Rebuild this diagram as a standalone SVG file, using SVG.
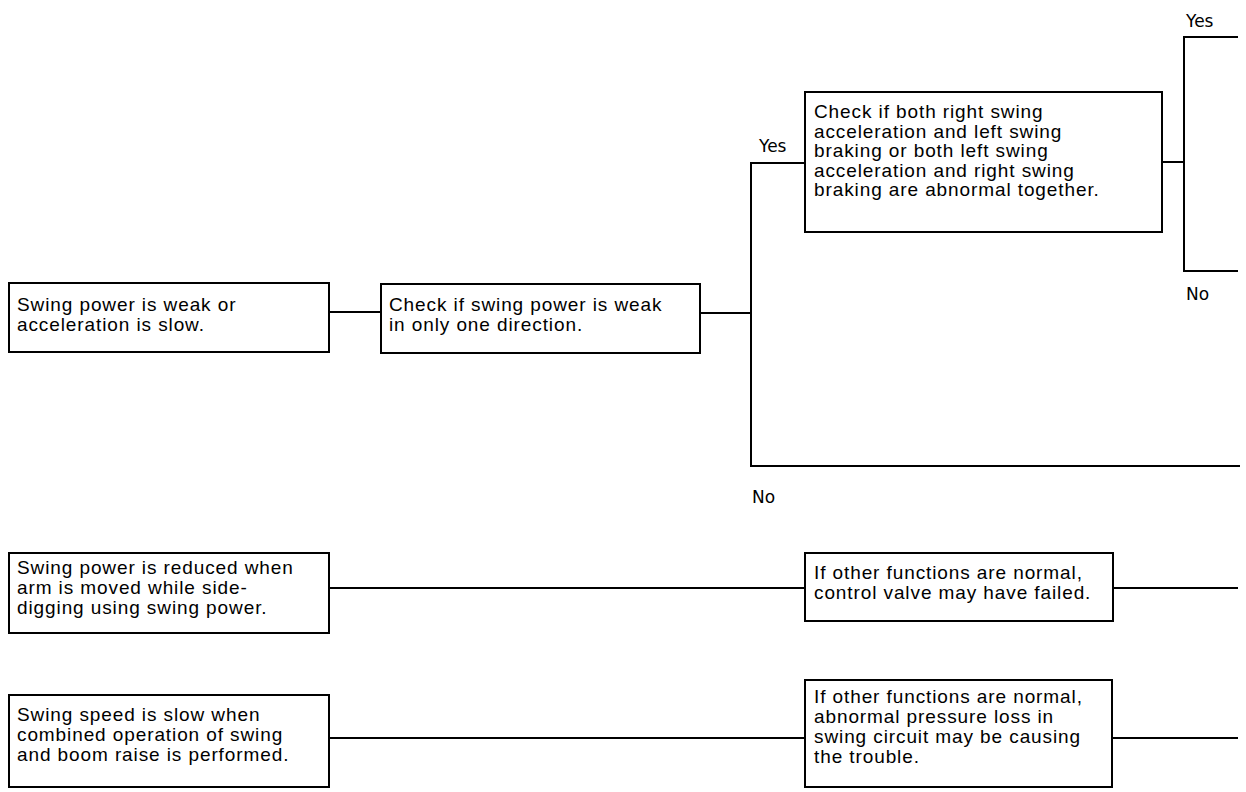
<svg xmlns="http://www.w3.org/2000/svg" width="1246" height="792" viewBox="0 0 1246 792">
  <style>
    .box { fill: #ffffff; stroke: #000000; stroke-width: 2; }
    .wire { fill: none; stroke: #000000; stroke-width: 2; }
    .txt { font-family: "Liberation Sans", Arial, sans-serif; font-size: 19px; letter-spacing: 0.9px; fill: #000000; }
    .lbl { font-family: "DejaVu Sans", "Liberation Sans", sans-serif; font-size: 17px; fill: #000000; }
  </style>
  <rect x="0" y="0" width="1246" height="792" fill="#ffffff"/>

  <!-- connectors -->
  <g id="connectors">
    <path class="wire" d="M329 312 H381"/>
    <path class="wire" d="M700 313 H751"/>
    <path class="wire" d="M805 163 H751 V466 H1240"/>
    <path class="wire" d="M1162 162 H1184"/>
    <path class="wire" d="M1238 37 H1184 V271 H1238"/>
    <path class="wire" d="M329 588 H805"/>
    <path class="wire" d="M1113 588 H1238"/>
    <path class="wire" d="M329 738 H805"/>
    <path class="wire" d="M1112 738 H1238"/>
    <text class="lbl" x="759" y="152">Yes</text>
    <text class="lbl" x="752" y="503">No</text>
    <text class="lbl" x="1186" y="27">Yes</text>
    <text class="lbl" x="1186" y="300">No</text>
  </g>

  <g id="symptom-weak">
    <rect class="box" x="9" y="283" width="320" height="69"/>
    <text class="txt" x="17" y="311">Swing power is weak or</text>
    <text class="txt" x="17" y="331">acceleration is slow.</text>
  </g>

  <g id="check-one-direction">
    <rect class="box" x="381" y="284" width="319" height="69"/>
    <text class="txt" x="389" y="311">Check if swing power is weak</text>
    <text class="txt" x="389" y="331">in only one direction.</text>
  </g>

  <g id="check-accel-braking">
    <rect class="box" x="805" y="92" width="357" height="140"/>
    <text class="txt" x="814" y="118">Check if both right swing</text>
    <text class="txt" x="814" y="137.5">acceleration and left swing</text>
    <text class="txt" x="814" y="157">braking or both left swing</text>
    <text class="txt" x="814" y="176.5">acceleration and right swing</text>
    <text class="txt" x="814" y="196">braking are abnormal together.</text>
  </g>

  <g id="symptom-side-digging">
    <rect class="box" x="9" y="553" width="320" height="80"/>
    <text class="txt" x="17" y="574">Swing power is reduced when</text>
    <text class="txt" x="17" y="594">arm is moved while side-</text>
    <text class="txt" x="17" y="614">digging using swing power.</text>
  </g>

  <g id="cause-control-valve">
    <rect class="box" x="805" y="553" width="308" height="68"/>
    <text class="txt" x="814" y="579">If other functions are normal,</text>
    <text class="txt" x="814" y="599">control valve may have failed.</text>
  </g>

  <g id="symptom-combined">
    <rect class="box" x="9" y="695" width="320" height="92"/>
    <text class="txt" x="17" y="721">Swing speed is slow when</text>
    <text class="txt" x="17" y="741">combined operation of swing</text>
    <text class="txt" x="17" y="761">and boom raise is performed.</text>
  </g>

  <g id="cause-pressure-loss">
    <rect class="box" x="805" y="680" width="307" height="107"/>
    <text class="txt" x="814" y="703">If other functions are normal,</text>
    <text class="txt" x="814" y="723">abnormal pressure loss in</text>
    <text class="txt" x="814" y="743">swing circuit may be causing</text>
    <text class="txt" x="814" y="763">the trouble.</text>
  </g>
</svg>
